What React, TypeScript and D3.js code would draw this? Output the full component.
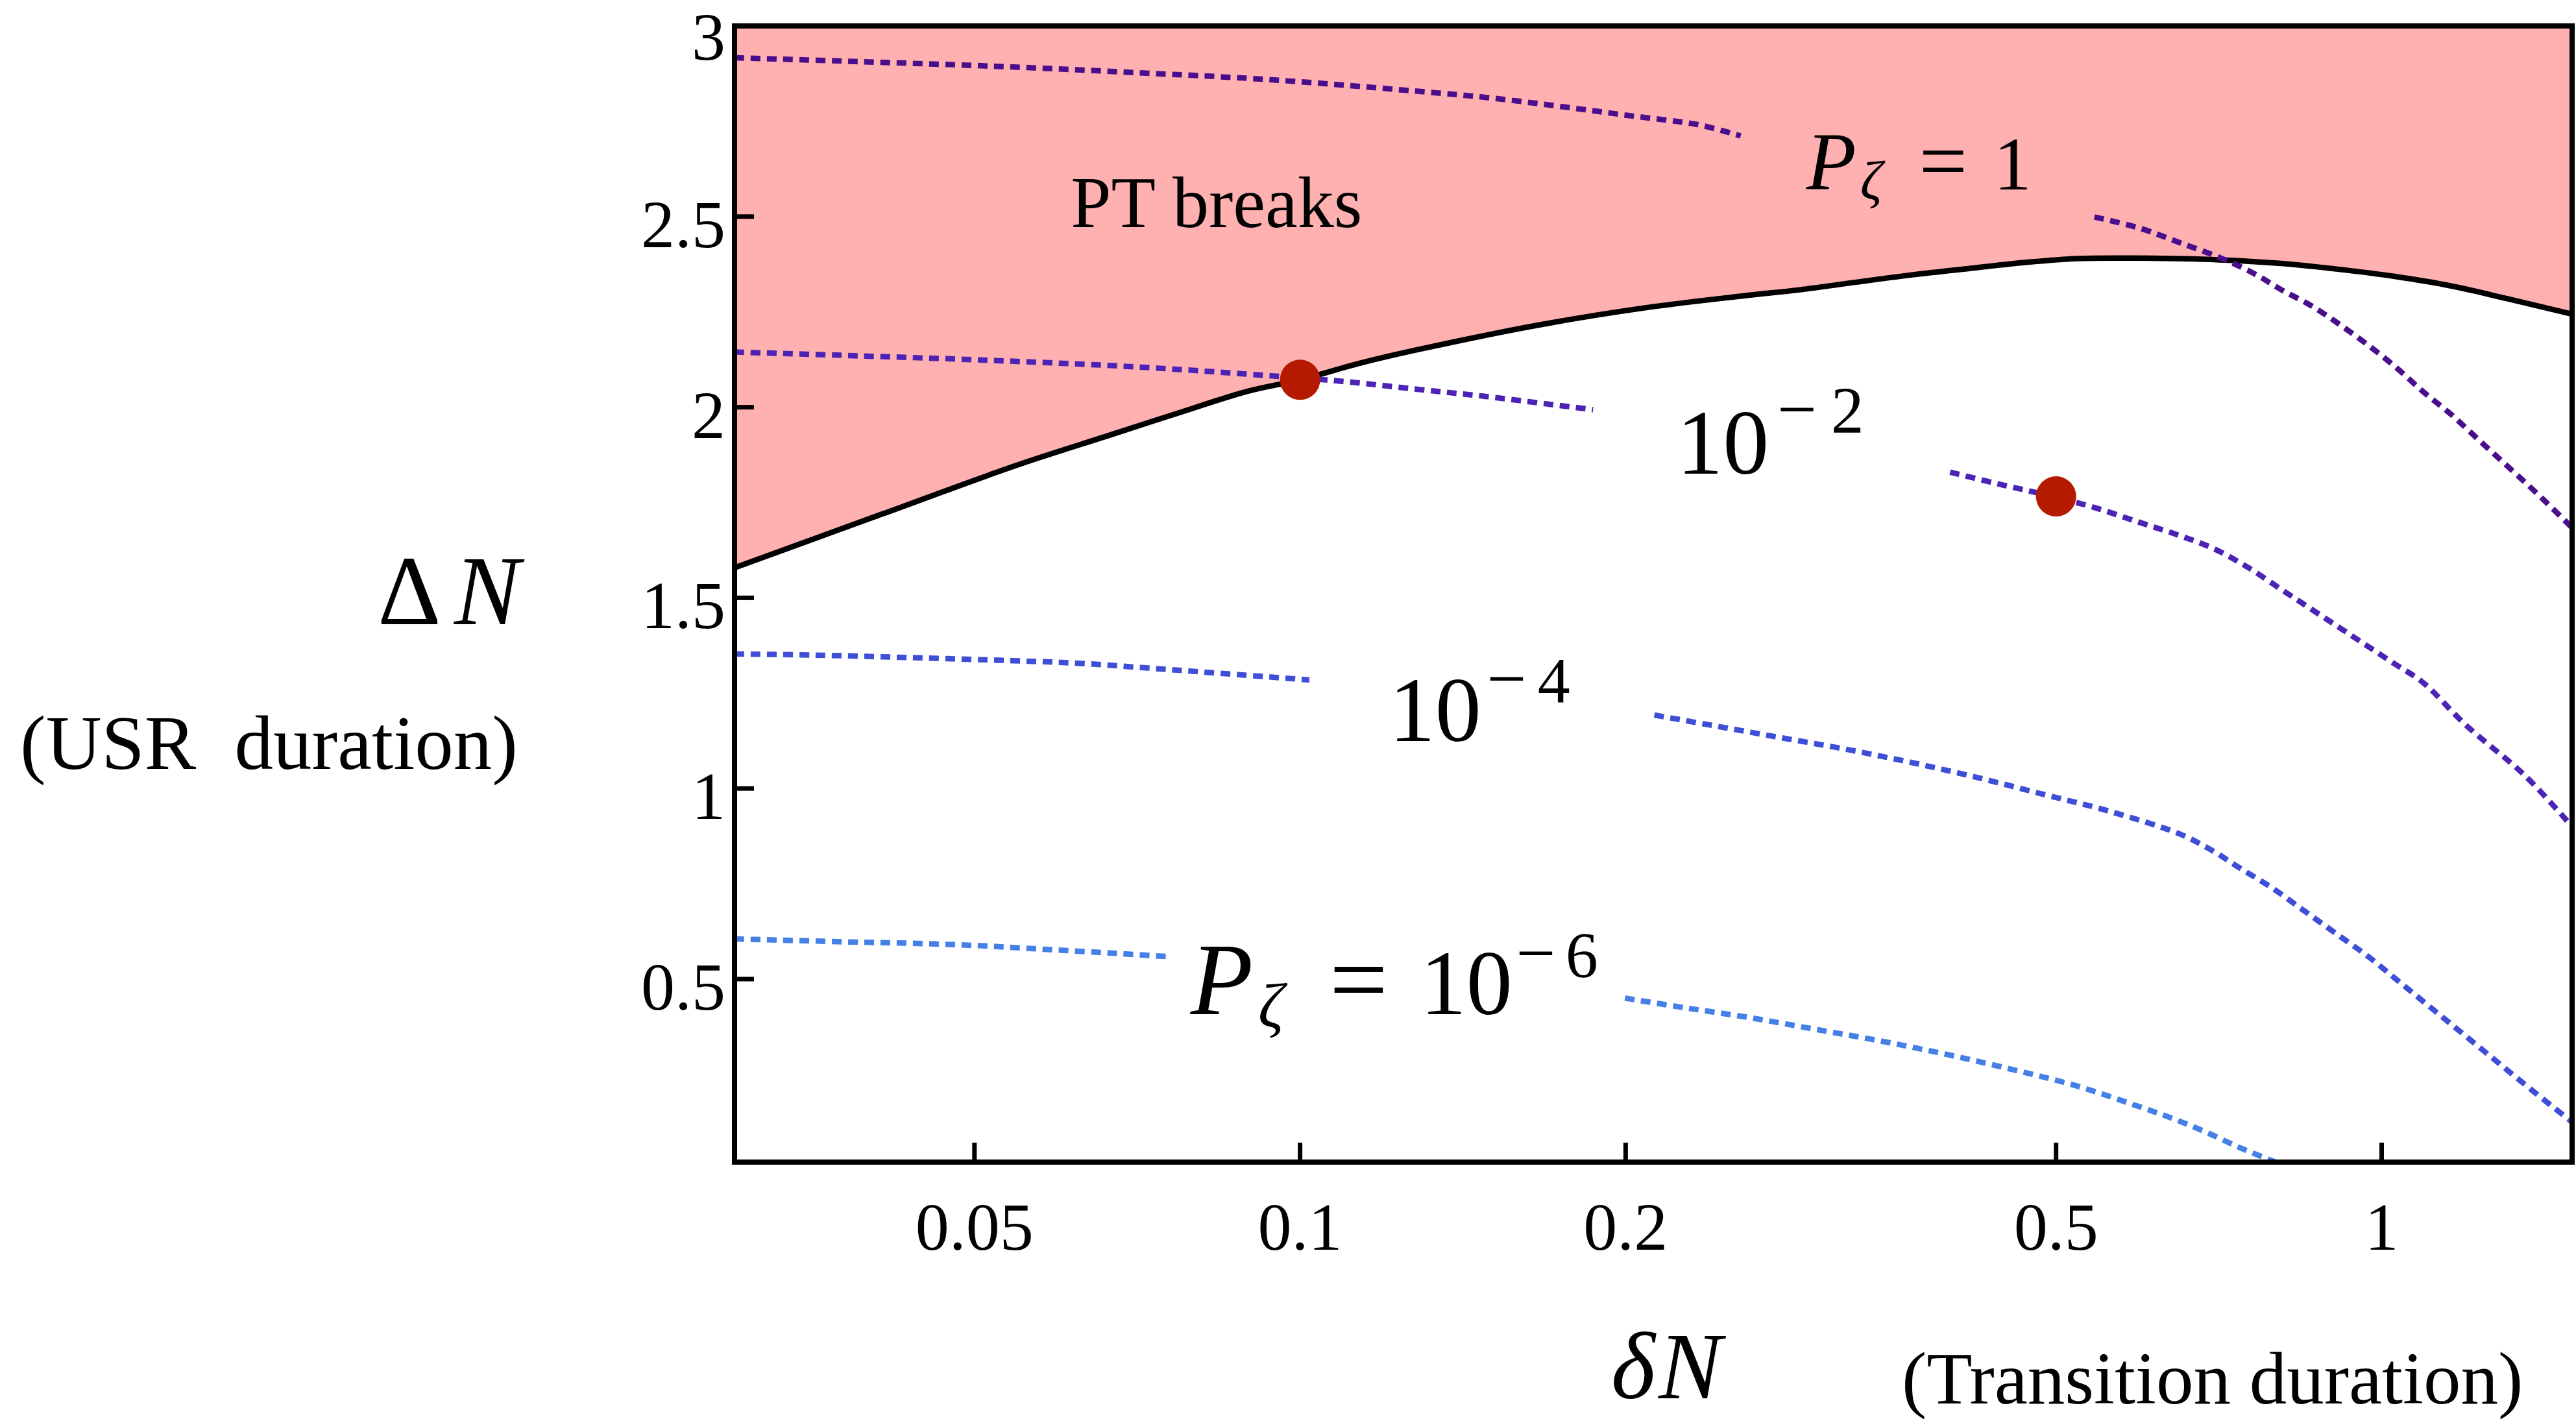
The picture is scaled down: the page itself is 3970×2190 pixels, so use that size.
import React from 'react';
import * as d3 from 'd3';

const W = 3970;
const H = 2190;

// Axis ticks
const xTicks = [0.05, 0.1, 0.2, 0.5, 1];
const xTickLabels = ['0.05', '0.1', '0.2', '0.5', '1'];
const yTicks = [0.5, 1, 1.5, 2, 2.5, 3];
const yTickLabels = ['0.5', '1', '1.5', '2', '2.5', '3'];

// PT-breaking boundary (black solid)
const boundaryX = [0.03, 0.0411, 0.0546, 0.0664, 0.077, 0.0895, 0.1, 0.1138, 0.128, 0.168, 0.21, 0.2569, 0.2897, 0.3268, 0.3688, 0.4161, 0.4694, 0.5233, 0.5975, 0.7075, 0.8077, 0.9114, 1.0283, 1.16, 1.309, 1.5];
const boundaryY = [1.579, 1.72, 1.847, 1.925, 1.984, 2.042, 2.072, 2.116, 2.15, 2.218, 2.262, 2.292, 2.308, 2.328, 2.3475, 2.364, 2.38, 2.39, 2.391, 2.3865, 2.377, 2.362, 2.343, 2.318, 2.284, 2.244];

// Contour P = 1
const p1aX = [0.03, 0.0387, 0.0523, 0.0705, 0.0951, 0.1283, 0.1491, 0.1733, 0.2011, 0.2335, 0.2555];
const p1aY = [2.9166, 2.9069, 2.8942, 2.8776, 2.858, 2.8288, 2.8121, 2.7896, 2.7652, 2.7408, 2.7115];
const p1bX = [0.5425, 0.5975, 0.65, 0.7075, 0.7605, 0.8077, 0.8581, 0.9114, 0.9681, 1.0283, 1.0922, 1.16, 1.232, 1.309, 1.39, 1.5];
const p1bY = [2.499, 2.4695, 2.432, 2.393, 2.352, 2.308, 2.2685, 2.2199, 2.1661, 2.1074, 2.041, 1.9805, 1.9121, 1.8437, 1.7755, 1.684];

// Contour 10^-2
const p2aX = [0.03, 0.0387, 0.0523, 0.0705, 0.0951, 0.1105, 0.1283, 0.1491, 0.1866];
const p2aY = [2.1448, 2.1351, 2.1224, 2.1058, 2.0814, 2.0667, 2.0471, 2.0276, 1.9934];
const p2bX = [0.399, 0.4473, 0.4963, 0.5425, 0.5975, 0.65, 0.699, 0.7514, 0.8077, 0.8581, 0.9114, 0.9681, 1.0283, 1.0922, 1.196, 1.357, 1.5];
const p2bY = [1.8297, 1.7954, 1.7662, 1.7369, 1.6978, 1.6636, 1.6294, 1.5807, 1.522, 1.4731, 1.4243, 1.3754, 1.3266, 1.2777, 1.1666, 1.0335, 0.9];

// Contour 10^-4
const p4aX = [0.03, 0.0355, 0.0438, 0.0541, 0.0623, 0.0717, 0.0826, 0.102];
const p4aY = [1.3528, 1.3499, 1.3431, 1.3353, 1.3285, 1.3167, 1.304, 1.2845];
const p4bX = [0.2126, 0.244, 0.2803, 0.3218, 0.3695, 0.4243, 0.4872, 0.5594, 0.6513, 0.6977, 0.7374, 0.79, 0.8469, 0.9074, 0.9723, 1.0418, 1.1163, 1.1961, 1.2816, 1.3733, 1.5];
const p4bY = [1.1926, 1.1622, 1.1317, 1.1014, 1.0667, 1.0276, 0.9842, 0.9408, 0.88, 0.8366, 0.7933, 0.7412, 0.6803, 0.6195, 0.5587, 0.4894, 0.4198, 0.3504, 0.2808, 0.2113, 0.125];

// Contour 10^-6
const p6aX = [0.03, 0.038, 0.0438, 0.0504, 0.058, 0.0668, 0.0759];
const p6aY = [0.6055, 0.5977, 0.5938, 0.5878, 0.5781, 0.5684, 0.5585];
const p6bX = [0.1997, 0.2278, 0.2616, 0.3002, 0.3448, 0.3959, 0.4546, 0.522, 0.5993, 0.6422, 0.6882, 0.7374, 0.79, 0.83];
const p6bY = [0.4501, 0.4241, 0.3981, 0.3678, 0.3373, 0.3026, 0.2635, 0.2201, 0.1637, 0.1333, 0.0985, 0.0594, 0.0247, 0.0];

// Benchmark points
const dotX = [0.1, 0.5];
const dotY = [2.072, 1.766];

const FONT = "'Liberation Serif', 'DejaVu Serif', serif";

const plot = { left: 1132, right: 3964, top: 40, bottom: 1791 };

const x = d3.scaleLog().domain([0.03, 1.5]).range([plot.left, plot.right]);
const y = d3.scaleLinear().domain([0.02, 3]).range([plot.bottom, plot.top]);

type P = [number, number];
const zip = (xs: number[], ys: number[]): P[] => xs.map((v, i) => [v, ys[i]] as P);

const line = d3
  .line<P>()
  .x((d) => x(d[0]))
  .y((d) => y(d[1]))
  .curve(d3.curveCatmullRom.alpha(0.5));

const area = d3
  .area<P>()
  .x((d) => x(d[0]))
  .y0(() => y(3))
  .y1((d) => y(d[1]))
  .curve(d3.curveCatmullRom.alpha(0.5));

const contours = [
  { segs: [zip(p1aX, p1aY), zip(p1bX, p1bY)], color: '#4A0E8C' },
  { segs: [zip(p2aX, p2aY), zip(p2bX, p2bY)], color: '#4C23B4' },
  { segs: [zip(p4aX, p4aY), zip(p4bX, p4bY)], color: '#3F4ED6' },
  { segs: [zip(p6aX, p6aY), zip(p6bX, p6bY)], color: '#4580E6' },
];

type Piece = { t: string; dx: number; dy?: number; size: number; italic?: boolean; anchor?: string };

const labels: { ax: number; ay: number; pieces: Piece[] }[] = [
  {
    ax: 0.2938,
    ay: 2.5711,
    pieces: [
      { t: 'P', dx: 0, size: 126, italic: true, anchor: 'start' },
      { t: 'ζ', dx: 100, dy: 15, size: 84, italic: true },
      { t: '=', dx: 211, size: 132 },
      { t: '1', dx: 318, size: 116 },
    ],
  },
  {
    ax: 0.246,
    ay: 1.8257,
    pieces: [
      { t: '10', dx: 0, size: 142 },
      { t: '−', dx: 114, dy: -63, size: 108 },
      { t: '2', dx: 192, dy: -63, size: 102 },
    ],
  },
  {
    ax: 0.1333,
    ay: 1.1246,
    pieces: [
      { t: '10', dx: 0, size: 142 },
      { t: '−', dx: 110, dy: -60, size: 108 },
      { t: '4', dx: 183, dy: -60, size: 100 },
    ],
  },
  {
    ax: 0.0792,
    ay: 0.4081,
    pieces: [
      { t: 'P', dx: 0, size: 158, italic: true, anchor: 'start' },
      { t: 'ζ', dx: 124, dy: 20, size: 98, italic: true },
      { t: '=', dx: 259, size: 160 },
      { t: '10', dx: 425, size: 142 },
      { t: '−', dx: 532, dy: -58, size: 108 },
      { t: '6', dx: 603, dy: -58, size: 100 },
    ],
  },
];

export default function App() {
  const frameW = 8;
  const tickLen = 30;
  return (
    <svg
      width={W}
      height={H}
      viewBox={`0 0 ${W} ${H}`}
      style={{ position: 'absolute', left: 0, top: 0, background: '#fff' }}
      fontFamily={FONT}
    >
      <defs>
        <clipPath id="plotClip">
          <rect x={plot.left} y={plot.top} width={plot.right - plot.left} height={plot.bottom - plot.top} />
        </clipPath>
      </defs>
      <rect x={0} y={0} width={W} height={H} fill="#fff" />

      <g clipPath="url(#plotClip)">
        <path d={area(zip(boundaryX, boundaryY)) || ''} fill="#FFB0B0" stroke="none" />
        <path
          d={line(zip(boundaryX, boundaryY)) || ''}
          fill="none"
          stroke="#000"
          strokeWidth={8.5}
          strokeLinejoin="round"
        />
        {contours.map((c, i) =>
          c.segs.map((s, j) => (
            <path
              key={`c${i}-${j}`}
              d={line(s) || ''}
              fill="none"
              stroke={c.color}
              strokeWidth={8.5}
              strokeDasharray="15 10"
              strokeLinecap="butt"
            />
          ))
        )}
        {dotX.map((d, i) => (
          <circle key={`dot${i}`} cx={x(d)} cy={y(dotY[i])} r={31} fill="#B51A00" />
        ))}
      </g>

      {/* region label */}
      <text x={x(0.0837)} y={y(2.472)} fontSize={112} textAnchor="middle" fill="#000">
        PT breaks
      </text>

      {/* contour labels */}
      {labels.map((l, i) => (
        <g key={`lab${i}`} transform={`translate(${x(l.ax)},${y(l.ay)})`}>
          {l.pieces.map((p, j) => (
            <text
              key={j}
              x={p.dx}
              y={p.dy || 0}
              fontSize={p.size}
              fontStyle={p.italic ? 'italic' : 'normal'}
              textAnchor={p.anchor || 'middle'}
              fill="#000"
            >
              {p.t}
            </text>
          ))}
        </g>
      ))}

      {/* frame */}
      <rect
        x={plot.left}
        y={plot.top}
        width={plot.right - plot.left}
        height={plot.bottom - plot.top}
        fill="none"
        stroke="#000"
        strokeWidth={frameW}
      />

      {/* x ticks */}
      {xTicks.map((t, i) => (
        <g key={`xt${i}`}>
          <line x1={x(t)} x2={x(t)} y1={plot.bottom} y2={plot.bottom - tickLen} stroke="#000" strokeWidth={7} />
          <text x={x(t)} y={1926} fontSize={104} textAnchor="middle" fill="#000">
            {xTickLabels[i]}
          </text>
        </g>
      ))}

      {/* y ticks */}
      {yTicks.map((t, i) => (
        <g key={`yt${i}`}>
          <line x1={plot.left} x2={plot.left + tickLen} y1={y(t)} y2={y(t)} stroke="#000" strokeWidth={7} />
          <text x={plot.left - 14} y={Math.max(y(t) + 47, 92)} fontSize={104} textAnchor="end" fill="#000">
            {yTickLabels[i]}
          </text>
        </g>
      ))}

      {/* y axis title */}
      <text x={582} y={962} fontSize={152} fill="#000">Δ</text>
      <text x={700} y={962} fontSize={152} fontStyle="italic" fill="#000">N</text>
      <text x={31} y={1185} fontSize={119} fill="#000" style={{ whiteSpace: 'pre' }}>
        {'(USR  duration)'}
      </text>

      {/* x axis title */}
      <text x={2483} y={2155} fontSize={146} fontStyle="italic" fill="#000">δ</text>
      <text x={2556} y={2155} fontSize={146} fontStyle="italic" fill="#000">N</text>
      <text x={2931} y={2163} fontSize={115} fill="#000">
        (Transition duration)
      </text>
    </svg>
  );
}
